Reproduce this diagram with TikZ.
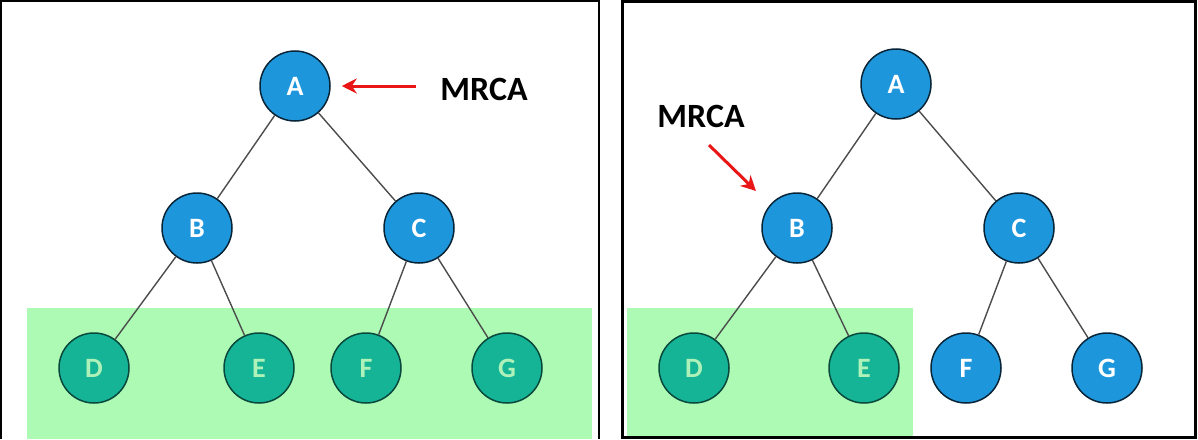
\documentclass[tikz,border=0pt]{standalone}
\usepackage{fontspec}
\setmainfont{Carlito}
\usepackage{xcolor}
\usetikzlibrary{positioning, arrows.meta}
\definecolor{nodeblue}{RGB}{30,150,220}
\definecolor{nodeteal}{RGB}{22,180,150}
\definecolor{leafgreen}{RGB}{173,250,180}
\definecolor{letterteal}{RGB}{175,242,185}
\definecolor{arrowred}{RGB}{232,22,22}

\begin{document}
\begin{tikzpicture}[x=1pt,y=-1pt,
		main/.style = {draw=black!75!nodeblue, line width=1.5pt, circle, minimum size=70pt, inner sep=0pt, fill=nodeblue, text=white, font=\fontsize{28}{30}\selectfont\bfseries},
		leaf/.style = {main, fill=nodeteal, draw=black!60!nodeteal, text=letterteal},
		edge/.style = {draw=black!70, line width=1.4pt},
		mrca/.style = {font=\fontsize{34}{38}\selectfont\bfseries},
		pointer/.style = {draw=arrowred, line width=3pt, -{Stealth[length=15pt,width=15pt]}}]
		\useasboundingbox (0,0) rectangle (1198,439);
		% left panel
		\fill[leafgreen] (27,308) rectangle (592,439);
		\draw[line width=2.5pt] (1,439) -- (1,1) -- (599,1) -- (599,439);
		\node[main] (A) at (295,86) {A};
		\node[main] (B) at (197,228) {B};
		\node[main] (C) at (419,228) {C};
		\node[leaf] (D) at (94,368) {D};
		\node[leaf] (E) at (259,368) {E};
		\node[leaf] (F) at (366,368) {F};
		\node[leaf] (G) at (507,368) {G};
		\draw[edge] (A) to (B);
		\draw[edge] (A) to (C);
		\draw[edge] (B) to (D);
		\draw[edge] (B) to (E);
		\draw[edge] (C) to (F);
		\draw[edge] (C) to (G);
		\node[mrca] (m) at (484,89) {MRCA};
		\coordinate (mtail) at (416,86);
		\draw[pointer, shorten >=11pt] (mtail) to (A);
		% right panel
		\fill[leafgreen] (627,308) rectangle (913,437);
		\draw[line width=3pt] (622.5,1.5) rectangle (1195,437.5);
		\node[main] (A2) at (896,84) {A};
		\node[main] (B2) at (797,228) {B};
		\node[main] (C2) at (1019,228) {C};
		\node[leaf] (D2) at (694,368) {D};
		\node[leaf] (E2) at (864,368) {E};
		\node[main] (F2) at (966,368) {F};
		\node[main] (G2) at (1107,368) {G};
		\draw[edge] (A2) to (B2);
		\draw[edge] (A2) to (C2);
		\draw[edge] (B2) to (D2);
		\draw[edge] (B2) to (E2);
		\draw[edge] (C2) to (F2);
		\draw[edge] (C2) to (G2);
		\node[mrca] (m2) at (701,116) {MRCA};
		\coordinate (mtail2) at (709,145);
		\coordinate (mhead2) at (756,191);
		\draw[pointer] (mtail2) to (mhead2);
	\end{tikzpicture}
\end{document}
